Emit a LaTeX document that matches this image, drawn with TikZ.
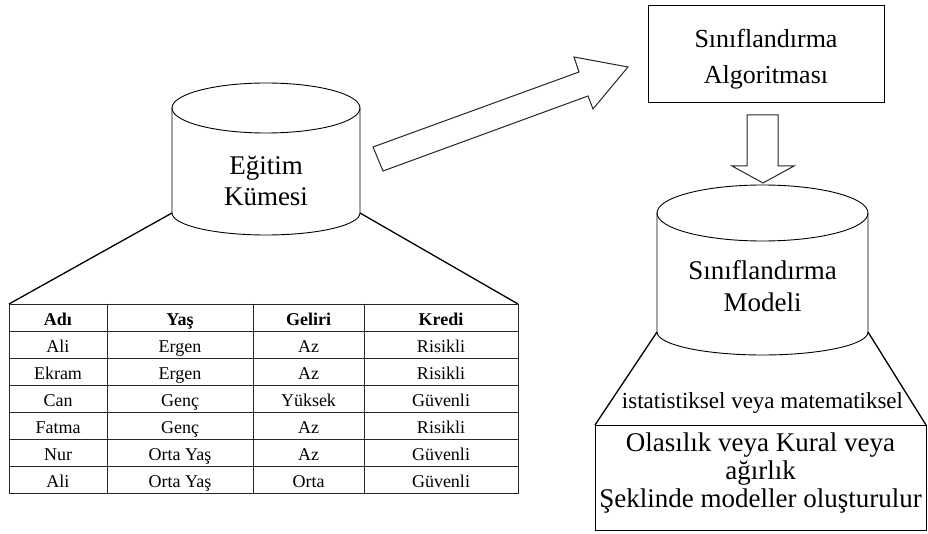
\documentclass[tikz,border=0pt]{standalone}
\usepackage{fontspec}
\setmainfont{Liberation Serif}
\begin{document}
\begin{tikzpicture}[x=1pt,y=-1pt,line join=miter,
  outline/.style={draw=black,line width=0.9pt},
  gridline/.style={draw=black!85,line width=0.9pt},
  slant/.style={draw=black,line width=1.3pt},
  hollowarrow/.style={draw=black!85,line width=1pt,fill=white},
  bigtext/.style={font=\fontsize{27}{31}\selectfont,inner sep=0pt,anchor=base},
  midtext/.style={font=\fontsize{26}{30}\selectfont,inner sep=0pt,anchor=base},
  notetext/.style={font=\fontsize{23}{28}\selectfont,inner sep=0pt,anchor=base},
  cell/.style={font=\fontsize{18}{20}\selectfont,inner sep=0pt,anchor=base},
  headcell/.style={cell,font=\fontsize{18}{20}\selectfont\bfseries},
]
\useasboundingbox (0,0) rectangle (928,534);

% ---------- training set cylinder ----------
\coordinate (c1bl) at (172,213);
\coordinate (c1br) at (360,213);
\draw[outline] (266,108) ellipse [x radius=94,y radius=25];
\draw[outline] (172,108) -- (c1bl) arc[start angle=180,end angle=0,x radius=94,y radius=22] -- (360,108);
\node[bigtext] (egitim) at (266,175) {Eğitim};
\node[bigtext] (kumesi) at (266,206) {Kümesi};

% ---------- data table ----------
\coordinate (ttl) at (9,304);
\coordinate (ttr) at (518,304);
\draw[slant] (c1bl) -- (ttl);
\draw[slant] (c1br) -- (ttr);
\draw[gridline] (ttl) rectangle (518,493);
\foreach \yy in {331,358,385,412,439,466} \draw[gridline] (9,\yy) -- (518,\yy);
\foreach \xx in {107,253,364} \draw[gridline] (\xx,304) -- (\xx,493);
\node[headcell] (h1) at (58,325) {Adı};
\node[headcell] (h2) at (180,325) {Yaş};
\node[headcell] (h3) at (308.5,325) {Geliri};
\node[headcell] (h4) at (441,325) {Kredi};
\foreach \a/\b/\c/\d [count=\i] in {Ali/Ergen/Az/Risikli,Ekram/Ergen/Az/Risikli,Can/Genç/Yüksek/Güvenli,Fatma/Genç/Az/Risikli,Nur/Orta Yaş/Az/Güvenli,Ali/Orta Yaş/Orta/Güvenli}{
  \pgfmathsetmacro\yb{325+27*\i}
  \node[cell] (a\i) at (58,\yb) {\a};
  \node[cell] (b\i) at (180,\yb) {\b};
  \node[cell] (c\i) at (308.5,\yb) {\c};
  \node[cell] (d\i) at (441,\yb) {\d};
}

% ---------- wide arrow towards the algorithm ----------
\draw[hollowarrow] (373,147) -- (579,72) -- (574,57) -- (628,67) -- (593,109) -- (588,96) -- (383,171) -- cycle;

% ---------- algorithm box ----------
\draw[outline] (648,5) rectangle (884,102);
\node[midtext] (alg1) at (766,48) {Sınıflandırma};
\node[midtext] (alg2) at (766,84) {Algoritması};

% ---------- downward arrow ----------
\draw[hollowarrow] (747,115) -- (778,115) -- (778,166) -- (794,166) -- (763,183) -- (732,166) -- (747,166) -- cycle;

% ---------- model cylinder ----------
\coordinate (c2bl) at (657,332);
\coordinate (c2br) at (868,332);
\draw[outline] (762.5,213) ellipse [x radius=105.5,y radius=28];
\draw[outline] (657,213) -- (c2bl) arc[start angle=180,end angle=0,x radius=105.5,y radius=23] -- (868,213);
\node[bigtext] (mod1) at (762.5,280) {Sınıflandırma};
\node[bigtext] (mod2) at (762.5,312) {Modeli};

% ---------- model description ----------
\coordinate (btl) at (595,425);
\coordinate (btr) at (926,425);
\draw[slant] (c2bl) -- (btl);
\draw[slant] (c2br) -- (btr);
\node[notetext] (kind) at (762.5,408) {istatistiksel veya matematiksel};
\draw[outline] (btl) rectangle (926,530);
\node[bigtext] (desc1) at (760.5,451) {Olasılık veya Kural veya};
\node[bigtext] (desc2) at (760.5,479) {ağırlık};
\node[bigtext] (desc3) at (760.5,507) {Şeklinde modeller oluşturulur};
\end{tikzpicture}
\end{document}
